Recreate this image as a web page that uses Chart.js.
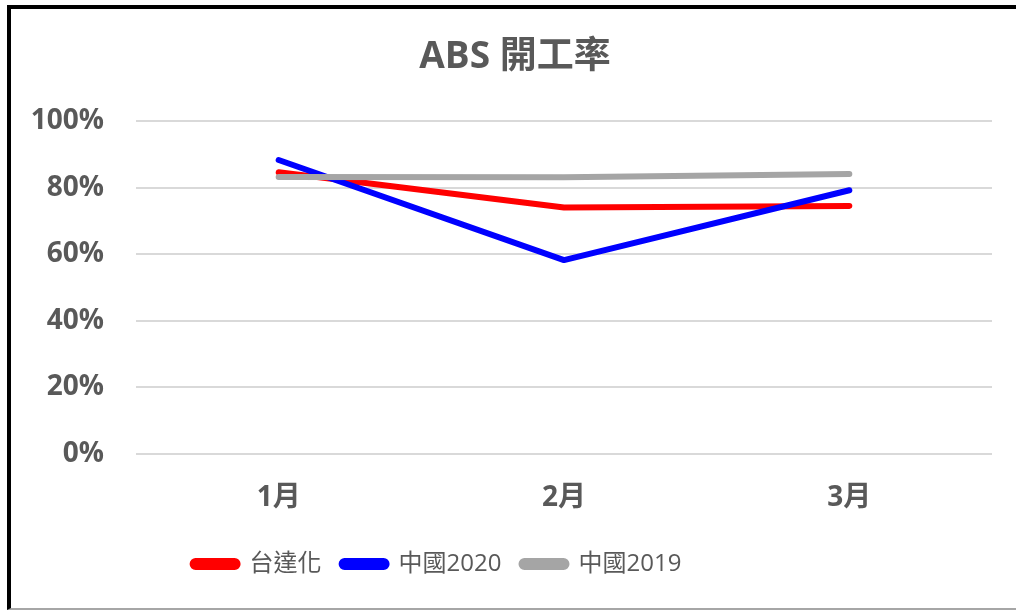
<!DOCTYPE html>
<html lang="zh-Hant">
<head>
    <meta charset="UTF-8">
    <title>ABS 開工率</title>
    <script src="https://cdn.jsdelivr.net/npm/chart.js"></script>
    <style>
        body { margin: 0; background: #fff; }
        .wrap { position: relative; width: 1016px; height: 610px; overflow: hidden; }
        .frame {
            position: absolute; left: 7px; top: 5px; right: -10px; bottom: 0;
            border-left: 4px solid #000;
            border-top: 4px solid #000;
            border-bottom: 2px solid #a6a6a6;
            pointer-events: none;
        }
    </style>
</head>
<body>
    <div class="wrap">
        <canvas id="absChart"></canvas>
        <div class="frame"></div>
    </div>

    <script>
        const months = ['1月', '2月', '3月'];
        const taidahua = [84.7, 74.1, 74.6];
        const china2020 = [88.4, 58.3, 79.3];
        const china2019 = [83.3, 83.2, 84.2];
        const yTicks = [0, 20, 40, 60, 80, 100];

        const FONT = '"Open Sans", "Noto Sans CJK TC", sans-serif';
        const TEXT = '#595959';
        const LEGEND_SHIFT = 59;
        const TITLE_SHIFT = 19;

        // nudge legend left and title right, like the original
        const nudge = {
            id: 'nudge',
            afterLayout(chart) {
                chart.legend.left -= LEGEND_SHIFT;
                chart.legend.right -= LEGEND_SHIFT;
                chart.titleBlock.left += TITLE_SHIFT;
                chart.titleBlock.right += TITLE_SHIFT;
            }
        };

        new Chart(document.getElementById('absChart'), {
            type: 'line',
            data: {
                labels: months,
                datasets: [
                    { label: '台達化', data: taidahua, borderColor: '#ff0000', backgroundColor: '#ff0000', order: 2 },
                    { label: '中國2020', data: china2020, borderColor: '#0000ff', backgroundColor: '#0000ff', order: 1 },
                    { label: '中國2019', data: china2019, borderColor: '#a5a5a5', backgroundColor: '#a5a5a5', order: 0 }
                ]
            },
            options: {
                responsive: true,
                maintainAspectRatio: false,
                animation: false,
                layout: { padding: { left: 0, right: 24, top: 0, bottom: 24 } },
                elements: {
                    line: { borderWidth: 6, borderCapStyle: 'round', borderJoinStyle: 'round', tension: 0 },
                    point: { radius: 0, hoverRadius: 0 }
                },
                plugins: {
                    title: {
                        display: true,
                        text: 'ABS 開工率',
                        color: TEXT,
                        font: { family: FONT, size: 37, weight: 'bold' },
                        padding: { top: 35, bottom: 42 }
                    },
                    legend: {
                        position: 'bottom',
                        labels: {
                            color: TEXT,
                            font: { family: FONT, size: 24 },
                            boxWidth: 45,
                            boxHeight: 6,
                            padding: 20,
                            useBorderRadius: true,
                            borderRadius: 3,
                            sort: (a, b) => a.datasetIndex - b.datasetIndex
                        }
                    },
                    tooltip: { enabled: false }
                },
                scales: {
                    x: {
                        offset: true,
                        grid: { display: false, drawTicks: false },
                        border: { display: false },
                        ticks: { color: TEXT, font: { family: FONT, size: 28, weight: 'bold' }, padding: 27 },
                        afterFit(scale) { scale.height = 78; }
                    },
                    y: {
                        min: 0,
                        max: 100,
                        grid: { color: '#d9d9d9', lineWidth: 2, drawTicks: false },
                        border: { display: false },
                        afterBuildTicks(scale) { scale.ticks = yTicks.map(v => ({ value: v })); },
                        ticks: {
                            color: TEXT,
                            font: { family: FONT, size: 28, weight: 'bold' },
                            padding: 32,
                            callback: v => v + '%'
                        },
                        afterFit(scale) { scale.width = 136; }
                    }
                }
            },
            plugins: [nudge]
        });
    </script>
</body>
</html>
